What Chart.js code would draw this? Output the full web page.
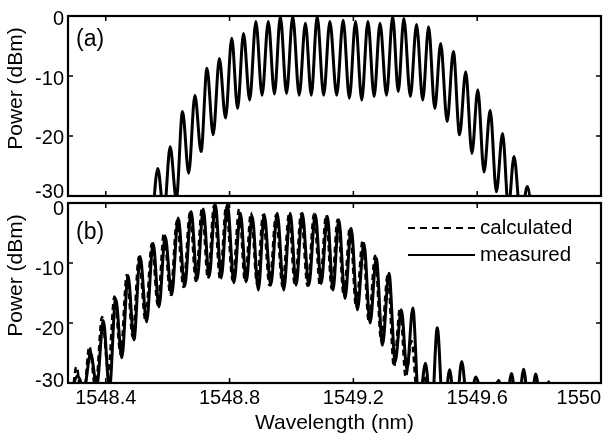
<!DOCTYPE html>
<html>
<head>
<meta charset="utf-8">
<script src="https://cdn.jsdelivr.net/npm/chart.js@4.4.1/dist/chart.umd.min.js"></script>
<style>
  html, body { margin: 0; padding: 0; background: #fff; }
  body { width: 615px; height: 440px; position: relative; overflow: hidden; }
  canvas { position: absolute; left: 0; }
  #cA { top: 0; }
  #cB { top: 185px; }
</style>
</head>
<body>
<canvas id="cA" width="615" height="215"></canvas>
<canvas id="cB" width="615" height="255"></canvas>
<script>
// ---------- axis ticks ----------
const xTickValues = [1548.4, 1548.8, 1549.2, 1549.6, 1550];
const xTickLabels = ["1548.4", "1548.8", "1549.2", "1549.6", "1550"];
const yTickValues = [-30, -20, -10, 0];
const yTickLabels = ["-30", "-20", "-10", "0"];
const xMin = 1548.278, xMax = 1550, yMin = -30, yMax = 0;

// ---------- panel (a): simulated spectrum (peaks and valleys) ----------
const aWavelength = [1548.548, 1548.568, 1548.588, 1548.608, 1548.628, 1548.648, 1548.668, 1548.688, 1548.708, 1548.727,
  1548.747, 1548.767, 1548.787, 1548.807, 1548.826, 1548.845, 1548.865, 1548.885, 1548.905, 1548.925,
  1548.945, 1548.964, 1548.984, 1549.004, 1549.025, 1549.045, 1549.064, 1549.083, 1549.104, 1549.124,
  1549.146, 1549.167, 1549.187, 1549.207, 1549.227, 1549.247, 1549.267, 1549.286, 1549.307, 1549.327,
  1549.345, 1549.363, 1549.384, 1549.404, 1549.424, 1549.443, 1549.463, 1549.482, 1549.503, 1549.523,
  1549.543, 1549.563, 1549.583, 1549.602, 1549.622, 1549.642, 1549.662, 1549.682, 1549.701, 1549.719,
  1549.741, 1549.762, 1549.782];
const aPower = [-36, -25.4, -33, -21.8, -30.5, -15.9, -26.2, -13.2, -22.6, -8.7,
  -19.8, -7.1, -17.0, -3.7, -15.4, -2.9, -14.0, -0.9, -13.2, -0.9,
  -13.0, -0.1, -12.9, -0.1, -13.2, -1.2, -13.2, -0.1, -13.2, -0.9,
  -13.2, -0.7, -13.7, -0.9, -14.0, -0.9, -13.4, -1.2, -13.2, -0.1,
  -12.6, -0.4, -13.4, -1.4, -14.0, -1.8, -15.4, -4.6, -17.6, -5.9,
  -19.8, -9.3, -22.9, -12.3, -26.0, -15.7, -29.3, -19.6, -32, -23.4,
  -34, -28.4, -36];

// ---------- panel (b): measured ----------
const measWavelength = [1548.290, 1548.309, 1548.330, 1548.351, 1548.371, 1548.392, 1548.412, 1548.432, 1548.452, 1548.472,
  1548.491, 1548.511, 1548.532, 1548.553, 1548.572, 1548.592, 1548.613, 1548.634, 1548.655, 1548.676,
  1548.695, 1548.715, 1548.734, 1548.754, 1548.773, 1548.793, 1548.814, 1548.835, 1548.854, 1548.873,
  1548.893, 1548.912, 1548.933, 1548.954, 1548.975, 1548.996, 1549.015, 1549.035, 1549.056, 1549.077,
  1549.096, 1549.116, 1549.134, 1549.153, 1549.173, 1549.193, 1549.213, 1549.234, 1549.254, 1549.274,
  1549.294, 1549.315, 1549.335, 1549.355, 1549.373, 1549.392, 1549.412, 1549.433, 1549.452, 1549.471,
  1549.491, 1549.511, 1549.530, 1549.550, 1549.572, 1549.595, 1549.632, 1549.670, 1549.690, 1549.711,
  1549.730, 1549.750, 1549.770, 1549.789, 1549.810, 1549.831, 1549.850];
const measPower = [-31, -28.8, -31, -25.0, -30.5, -19.6, -31, -15.9, -25.8, -12.1,
  -22.8, -8.9, -19.8, -6.7, -17.3, -5.6, -15.3, -2.5, -13.9, -1.4,
  -12.8, -1.0, -12.3, -0.2, -12.5, -0.2, -13.3, -1.7, -13.1, -2.2,
  -14.5, -1.9, -13.7, -1.7, -14.5, -1.7, -13.7, -1.7, -13.7, -1.9,
  -13.4, -2.2, -14.5, -2.8, -15.9, -4.2, -17.8, -6.7, -20.0, -9.2,
  -23.7, -11.7, -26.4, -17.8, -27.8, -17.5, -34, -26.7, -36, -20.8,
  -36, -27.8, -36, -26.4, -36, -29.0, -36, -29.6, -36, -28.4,
  -36, -27.7, -36, -28.5, -36, -29.8, -36];

// ---------- panel (b): calculated ----------
const calcWavelength = [1548.288, 1548.305, 1548.326, 1548.347, 1548.367, 1548.388, 1548.408, 1548.428, 1548.448, 1548.468,
  1548.487, 1548.507, 1548.528, 1548.549, 1548.568, 1548.588, 1548.609, 1548.630, 1548.651, 1548.672,
  1548.691, 1548.711, 1548.730, 1548.750, 1548.769, 1548.789, 1548.810, 1548.831, 1548.850, 1548.869,
  1548.889, 1548.908, 1548.929, 1548.950, 1548.971, 1548.992, 1549.011, 1549.031, 1549.052, 1549.073,
  1549.092, 1549.112, 1549.130, 1549.149, 1549.169, 1549.189, 1549.209, 1549.230, 1549.250, 1549.270,
  1549.290, 1549.311, 1549.331, 1549.351, 1549.369, 1549.388, 1549.408, 1549.429, 1549.448];
const calcPower = [-35, -27.3, -34, -23.9, -31, -19.0, -28, -15.6, -25.2, -12.0,
  -22.3, -9.0, -19.5, -6.8, -17.0, -5.0, -15.3, -3.0, -14.0, -1.6,
  -13.0, -0.8, -12.6, -0.4, -12.6, -0.5, -12.9, -1.0, -13.2, -1.6,
  -13.5, -2.0, -13.7, -2.0, -13.9, -1.9, -13.8, -1.8, -13.8, -1.8,
  -13.8, -2.0, -14.3, -2.8, -15.5, -4.0, -17.4, -6.3, -19.8, -8.8,
  -23.0, -12.0, -27.3, -17.5, -29.0, -23.0, -33, -29.0, -38];

const FONT = '"Liberation Sans", Arial, Helvetica, sans-serif';
Chart.defaults.color = '#000';
Chart.defaults.font.family = FONT;

function pts(xs, ys) { return xs.map((v, i) => ({ x: v, y: ys[i] })); }

const decor = {
  id: 'decor',
  afterDraw(chart, args, o) {
    const { ctx, chartArea: { left, right, top, bottom }, scales: { x, y } } = chart;
    ctx.save();
    ctx.strokeStyle = '#000';
    ctx.lineWidth = 1.5;
    ctx.beginPath();
    xTickValues.forEach(v => {
      const px = x.getPixelForValue(v);
      ctx.moveTo(px, bottom); ctx.lineTo(px, bottom - 5);
      ctx.moveTo(px, top); ctx.lineTo(px, top + 5);
    });
    yTickValues.forEach(v => {
      const py = y.getPixelForValue(v);
      ctx.moveTo(left, py); ctx.lineTo(left + 5, py);
      ctx.moveTo(right, py); ctx.lineTo(right - 5, py);
    });
    ctx.stroke();
    ctx.lineWidth = 2.2;
    ctx.strokeRect(left, top, right - left, bottom - top);
    ctx.fillStyle = '#000';
    ctx.font = '23px ' + FONT;
    ctx.textBaseline = 'middle';
    ctx.textAlign = 'left';
    ctx.fillText(o.label, left + 8, top + o.labelDy);
    if (o.legend) {
      ctx.font = '20.5px ' + FONT;
      o.legend.forEach((item, i) => {
        const yy = top + 25 + i * 27;
        ctx.beginPath();
        ctx.lineWidth = 2.2;
        ctx.setLineDash(item.dash);
        ctx.moveTo(right - 193, yy); ctx.lineTo(right - 126, yy);
        ctx.stroke();
        ctx.setLineDash([]);
        ctx.fillText(item.text, right - 121, yy);
      });
    }
    ctx.restore();
  }
};

// vertical nudge (px) of each y tick label, as in the original figure
function yScale(shift) {
  const label = v => {
    const t = yTickLabels[yTickValues.indexOf(v)];
    const s = shift[yTickValues.indexOf(v)];
    if (!s) return t;
    return s > 0 ? ['', t] : [t, ''];
  };
  return {
    type: 'linear', min: yMin, max: yMax,
    afterBuildTicks: s => { s.ticks = yTickValues.map(v => ({ value: v })); },
    afterFit: s => { s.width = 68; },
    grid: { display: false, drawTicks: false },
    border: { display: false },
    ticks: {
      padding: 4,
      font: c => ({ size: 20, lineHeight: (2 * Math.abs(shift[yTickValues.indexOf(c.tick ? c.tick.value : 0)] || 0)) + 'px' }),
      callback: label
    },
    title: { display: true, text: '      Power (dBm)', font: { size: 21 }, padding: { top: 4, bottom: 0 } }
  };
}

new Chart(document.getElementById('cA'), {
  type: 'line',
  data: { datasets: [{ label: 'simulated', data: pts(aWavelength, aPower), borderColor: '#000', borderWidth: 3, pointRadius: 0, cubicInterpolationMode: 'monotone', fill: false }] },
  options: {
    responsive: false, animation: false, events: [],
    layout: { padding: { top: 16, right: 14, bottom: 19, left: 0 } },
    plugins: { legend: { display: false }, tooltip: { enabled: false }, decor: { label: '(a)', labelDy: 23.5 } },
    scales: {
      x: { type: 'linear', min: xMin, max: xMax, display: false },
      y: yScale([-4, 2, 3.5, 3])
    }
  },
  plugins: [decor]
});

new Chart(document.getElementById('cB'), {
  type: 'line',
  data: { datasets: [
    { label: 'calculated', data: pts(calcWavelength, calcPower), borderColor: '#000', borderWidth: 2.5, borderDash: [6, 4], pointRadius: 0, cubicInterpolationMode: 'monotone', fill: false },
    { label: 'measured', data: pts(measWavelength, measPower), borderColor: '#000', borderWidth: 3, pointRadius: 0, cubicInterpolationMode: 'monotone', fill: false }
  ] },
  options: {
    responsive: false, animation: false, events: [],
    layout: { padding: { top: 18, right: 14, bottom: 0, left: 0 } },
    plugins: { legend: { display: false }, tooltip: { enabled: false },
      decor: { label: '(b)', labelDy: 30, legend: [ { text: 'calculated', dash: [7, 5] }, { text: 'measured', dash: [] } ] } },
    scales: {
      x: {
        type: 'linear', min: xMin, max: xMax,
        afterBuildTicks: s => { s.ticks = xTickValues.map(v => ({ value: v })); },
        afterFit: s => { s.height = 57; s.paddingLeft = 0; s.paddingRight = 0; },
        grid: { display: false, drawTicks: false },
        border: { display: false },
        ticks: { padding: 3, maxRotation: 0, autoSkip: false, font: { size: 20 },
          callback: v => { const i = xTickValues.indexOf(v); return i === xTickValues.length - 1 ? xTickLabels[i] + '        ' : xTickLabels[i]; } },
        title: { display: true, text: 'Wavelength (nm)', font: { size: 21 }, padding: { top: 0, bottom: 4 } }
      },
      y: yScale([-2, 6, 6, 6])
    }
  },
  plugins: [decor]
});
</script>
</body>
</html>
